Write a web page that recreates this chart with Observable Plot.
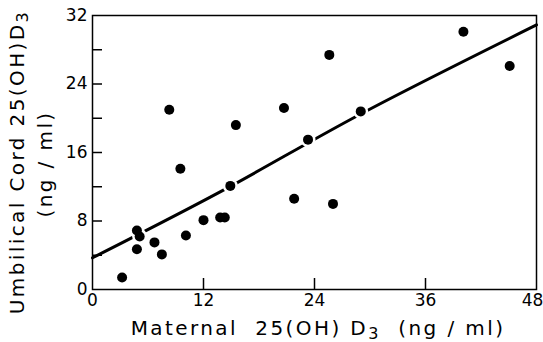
<!DOCTYPE html>
<html><head><meta charset="utf-8">
<script src="https://cdn.jsdelivr.net/npm/d3@7"></script>
<script src="https://cdn.jsdelivr.net/npm/@observablehq/plot@0.6"></script>
<style>body{margin:0;background:#fff}</style>
</head><body><div id="chart"></div>
<script>
const maternal = [3.2,4.8,5.1,4.8,6.7,7.5,8.3,9.5,10.1,12.0,13.8,14.3,14.9,15.5,20.7,21.8,23.3,25.6,26.0,29.0,40.1,45.1];
const cord = [1.4,6.9,6.2,4.7,5.5,4.1,21.0,14.1,6.3,8.1,8.4,8.4,12.1,19.2,21.2,10.6,17.5,27.4,10.0,20.8,30.1,26.1];
const fitX = [0, 15, 29, 48];
const fitY = [3.7, 12.1, 20.5, 30.9];
const xTickLabels = [0,12,24,36];
const xLastLabel = [48];
const xTicks = [12,24,36];
const yTickLabels = [0,8,16,24,32];
const yTicks = [4,8,12,16,20,24,28];

const points = maternal.map((m,i)=>({x:m, y:cord[i]}));
const fit = fitX.map((x,i)=>({x, y:fitY[i]}));
const W = 543, H = 342, mL = 92, mR = 7, mT = 15, mB = 53;
const innerW = W - mL - mR, innerH = H - mT - mB;

const chart = Plot.plot({
  width: W, height: H,
  marginLeft: mL, marginRight: mR, marginTop: mT, marginBottom: mB,
  style: {fontFamily: "DejaVu Sans", fontSize: "17px", color: "#000", background: "#fff"},
  x: {domain: [0,48]},
  y: {domain: [0,32]},
  marks: [
    Plot.tickX(xTicks, {x: d=>d, insetTop: innerH - 11, stroke: "#000", strokeWidth: 1.5}),
    Plot.tickY(yTicks, {y: d=>d, insetRight: innerW - 10, stroke: "#000", strokeWidth: 1.5}),
    Plot.line(fit, {x:"x", y:"y", stroke:"#000", strokeWidth: 3, curve: "natural"}),
    Plot.dot(points, {x:"x", y:"y", r: 5, fill: "#000", stroke: "#fff", strokeWidth: 5}),
    Plot.dot(points, {x:"x", y:"y", r: 5, fill: "#000"}),
    Plot.frame({stroke: "#000", strokeWidth: 1.5}),
    Plot.axisX({ticks: xTickLabels, tickSize: 0, tickPadding: 4, label: null, fontSize: 17}),
    Plot.axisX({ticks: xLastLabel, tickSize: 0, tickPadding: 4, label: null, fontSize: 17, dx: -4}),
    Plot.axisY({ticks: yTickLabels, tickSize: 0, tickPadding: 5, label: null, fontSize: 17})
  ]
});
document.getElementById("chart").appendChild(chart);

const svg = d3.select(chart);
const ts = {"font-family": "DejaVu Sans", "font-size": "20px", "letter-spacing": "2.4px", "fill": "#000"};
function addText(g, parts) {
  const t = g.append("text").attr("text-anchor","middle").style("white-space","pre");
  Object.entries(ts).forEach(([k,v])=>t.attr(k,v));
  parts.forEach(([s, sub])=>{
    const sp = t.append("tspan").text(s);
    if (sub) sp.attr("dy", 4).attr("font-size", "16px");
    else if (t.selectAll("tspan").size() > 1) sp.attr("dy", -4);
  });
  return t;
}
addText(svg.append("g").attr("transform","translate(318,335)"),
  [["Maternal  25(OH) D"],["3",true],["  (ng / ml)"]]);
addText(svg.append("g").attr("transform","translate(24,162) rotate(-90)"),
  [["Umbilical Cord 25(OH)D"],["3",true]]);
addText(svg.append("g").attr("transform","translate(52,164) rotate(-90)"),
  [["(ng / ml)"]]);
</script>
</body></html>
